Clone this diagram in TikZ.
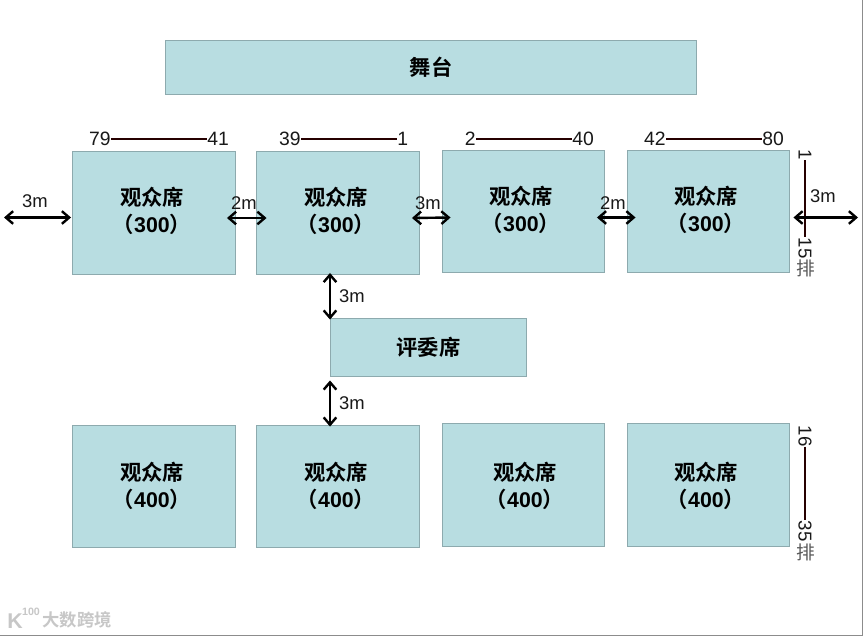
\documentclass[tikz,border=0pt]{standalone}
\usepackage{fontspec}
\setmainfont{Liberation Sans}
\newfontfamily\cjk{Noto Sans CJK SC}
\newfontfamily\cjkb{Noto Sans CJK SC Bold}
\usetikzlibrary{arrows.meta}
\definecolor{boxfill}{HTML}{B8DDE1}
\definecolor{boxline}{HTML}{8DAAAE}
\tikzset{
  seat/.style={draw=boxline,fill=boxfill,line width=0.7pt,inner sep=0pt},
  seatlabel/.style={align=center,font=\fontsize{16}{20.5}\selectfont,inner sep=0pt},
  dim/.style={font=\fontsize{13.8}{15}\selectfont,inner sep=0pt,text=black!90},
  rowend/.style={font=\fontsize{14.5}{15}\selectfont,inner sep=0pt,text=black!90},
  sideend/.style={font=\fontsize{14}{15}\selectfont,inner sep=0pt,rotate=-90,text=black!90},
  pai/.style={font=\cjk\fontsize{14}{15}\selectfont,inner sep=0pt,text=black!65},
  span/.style={draw=black,line width=1.8pt,{Straight Barb[length=5.5pt,width=9.5pt]}-{Straight Barb[length=5.5pt,width=9.5pt]}},
  rule/.style={draw=black!85!red,line width=0.9pt},
}
\newcommand{\seatbox}[5]{\node[seat,minimum width=#3*0.75pt,minimum height=#4*0.75pt] (#5) at (#1,#2) {};}
\newcommand{\seatname}[4]{\node[seatlabel] (#4) at (#1,#2) {{\cjkb 观众席}\\[-0.5pt]{\cjkb （}{\fontsize{16}{19.5}\selectfont\textbf{#3}}{\cjkb ）}};}
\begin{document}
\begin{tikzpicture}[x=0.75pt,y=-0.75pt]
\useasboundingbox (0,0) rectangle (864,636);
\fill[white] (0,0) rectangle (864,636);
\draw[black!45,line width=0.6pt] (862,0) -- (862,635) -- (0,635);

% stage and judges
\node[seat,minimum width=531*0.75pt,minimum height=54*0.75pt,font=\cjkb\fontsize{16}{17}\selectfont] (stage) at (431,67.5) {舞台};
\node[seat,minimum width=196*0.75pt,minimum height=58*0.75pt,font=\cjkb\fontsize{16}{17}\selectfont] (judge) at (428.5,347.5) {评委席};

% seating blocks
\seatbox{154}{213}{163}{123}{a1}
\seatbox{338}{213}{163}{123}{a2}
\seatbox{523.5}{211.5}{162}{122}{a3}
\seatbox{708.5}{211.5}{162}{122}{a4}
\seatbox{154}{486.5}{163}{122}{b1}
\seatbox{338}{486.5}{163}{122}{b2}
\seatbox{523.5}{485}{162}{123}{b3}
\seatbox{708.5}{485}{162}{123}{b4}

\seatname{152}{211}{300}{la1}
\seatname{336}{211}{300}{la2}
\seatname{521}{210}{300}{la3}
\seatname{706}{210}{300}{la4}
\seatname{152}{486}{400}{lb1}
\seatname{336}{486}{400}{lb2}
\seatname{525}{486}{400}{lb3}
\seatname{706}{486}{400}{lb4}

% seat numbers
\node[rowend,anchor=east] (n79) at (111,139) {79};
\node[rowend,anchor=west] (n41) at (207,139) {41};
\draw[rule] (n79) -- (n41);
\node[rowend,anchor=east] (n39) at (301,139) {39};
\node[rowend,anchor=west] (n1) at (397,139) {1};
\draw[rule] (n39) -- (n1);
\node[rowend,anchor=east] (n2) at (476,139) {2};
\node[rowend,anchor=west] (n40) at (572,139) {40};
\draw[rule] (n2) -- (n40);
\node[rowend,anchor=east] (n42) at (666,139) {42};
\node[rowend,anchor=west] (n80) at (762,139) {80};
\draw[rule] (n42) -- (n80);

% row numbers
\node[sideend] (r1) at (805,155) {1};
\node[sideend] (r15) at (805,248) {15};
\node[pai] (p1) at (806,268) {排};
\draw[rule] (r1) -- (r15);
\node[sideend] (r16) at (805,436) {16};
\node[sideend] (r35) at (805,531) {35};
\node[pai] (p2) at (806,552) {排};
\draw[rule] (r16) -- (r35);

% spacing arrows
\coordinate (farleft) at (4,217.5);
\coordinate (farright) at (858,217.5);
\draw[span] (farleft) -- ([shift={(-1,4.5)}]a1.west);
\draw[span] ([shift={(-9,5)}]a1.east) -- ([shift={(10.5,5)}]a2.west);
\draw[span] ([shift={(-8,5)}]a2.east) -- ([shift={(8.5,6)}]a3.west);
\draw[span] ([shift={(-8,6)}]a3.east) -- ([shift={(8.5,6)}]a4.west);
\draw[span] ([shift={(3.5,6)}]a4.east) -- (farright);
\draw[span] ([shift={(-8,-2)}]a2.south) -- ([shift={(-98.5,1.5)}]judge.north);
\draw[span] ([shift={(-98.5,3.5)}]judge.south) -- ([shift={(-8,1.5)}]b2.north);

\node[dim] (d1) at (35,201) {3m};
\node[dim] (d2) at (244,203) {2m};
\node[dim] (d3) at (428,203) {3m};
\node[dim] (d4) at (613,203) {2m};
\node[dim] (d5) at (823,196) {3m};
\node[dim] (d6) at (352,296) {3m};
\node[dim] (d7) at (352,403) {3m};

% watermark
\node[inner sep=0pt,text=black!22,font=\bfseries\fontsize{16}{17}\selectfont] (wk) at (15,621) {K};
\node[inner sep=0pt,text=black!22,font=\bfseries\fontsize{8}{9}\selectfont] (wh) at (31,612) {100};
\node[inner sep=0pt,text=black!22,font=\cjkb\fontsize{13}{14}\selectfont] (wm) at (77,620) {大数跨境};
\end{tikzpicture}
\end{document}
